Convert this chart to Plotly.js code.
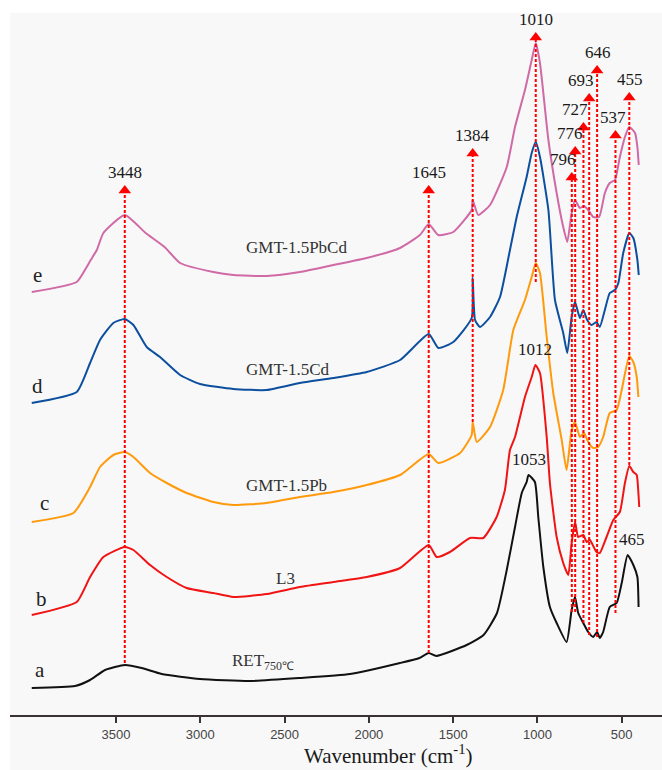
<!DOCTYPE html>
<html>
<head>
<meta charset="utf-8">
<script src="https://cdn.plot.ly/plotly-3.0.1.min.js"></script>
<style>html,body{margin:0;padding:0;background:#fff}</style>
</head>
<body>
<div id="chart" style="width:662px;height:770px"></div>
<script>
// FTIR spectra, stacked: wavenumber (cm-1) and absorbance (a.u., stacking offset included)
const wnA  = [4000,3743,3654,3565,3448,3348,3229,3002,2706,2409,2112,1815,1700,1645,1600,1420,1320,1240,1182,1133,1093,1064,1053,1015,995,965,926,886,827,797,777,758,728,699,669,646,630,610,571,530,500,465,431,407,400];
const absA = [27,29,35,45,50,47,41,36,34,37,41,52,57,62,59,70,80,102,145,188,222,233,240,233,198,148,108,92,73,105,118,102,92,83,78,83,77,83,108,112,132,160,150,138,108];

const wnB  = [4000,3733,3654,3575,3448,3397,3298,3199,3081,2923,2804,2606,2409,2211,2013,1815,1645,1598,1519,1400,1321,1242,1193,1163,1133,1074,1034,1012,985,945,926,886,847,817,797,777,758,728,708,689,650,630,590,550,511,481,455,431,411,401,396];
const absB = [100,113,138,158,168,165,150,138,127,122,118,121,128,133,138,147,170,158,163,177,177,198,225,265,278,318,338,350,342,278,232,178,152,140,172,193,178,180,173,175,163,162,178,195,203,232,249,243,240,222,208];

const wnC  = [4000,3753,3654,3595,3516,3448,3397,3298,3199,3081,2923,2804,2606,2409,2211,2013,1815,1645,1588,1459,1390,1384,1360,1281,1203,1143,1074,1034,1010,985,945,906,856,827,797,777,748,724,699,669,640,610,571,530,500,455,431,411,401];
const absC = [193,202,228,248,260,263,258,242,232,222,213,210,212,218,223,230,240,261,252,262,280,293,273,288,325,385,415,438,452,442,378,322,275,245,285,293,278,282,273,267,268,278,302,305,325,359,353,338,318];

const wnD  = [4000,3733,3654,3595,3516,3448,3397,3318,3239,3120,3002,2804,2606,2409,2211,2013,1815,1645,1588,1499,1390,1384,1370,1341,1281,1222,1163,1123,1064,1034,1010,985,935,896,847,823,797,777,748,728,705,679,650,630,600,571,540,520,491,455,431,407,399];
const absD = [312,323,352,375,392,396,390,368,358,340,331,326,325,332,337,343,355,381,367,373,397,437,395,388,398,418,465,498,538,562,573,558,505,415,382,362,398,413,397,405,395,390,393,388,405,422,425,432,462,482,477,455,440];

const wnE  = [4000,3733,3674,3650,3614,3575,3448,3324,3212,3120,2923,2804,2606,2409,2211,2013,1815,1697,1645,1588,1499,1390,1384,1351,1281,1182,1133,1074,1034,1010,985,935,886,847,823,797,777,748,724,699,669,634,600,571,540,511,481,455,421,407,399];
const absE = [423,433,448,455,465,482,500,482,468,452,443,440,439,443,450,457,467,480,491,480,483,505,515,500,510,548,588,625,655,672,652,575,522,488,473,502,515,507,509,505,498,498,522,532,535,558,578,588,582,568,550];

const sampleNames  = ['RET<sub>750℃</sub>', 'L3', 'GMT-1.5Pb', 'GMT-1.5Cd', 'GMT-1.5PbCd'];
const sampleLetters = ['a', 'b', 'c', 'd', 'e'];
const sampleColors = ['#111111', '#f01414', '#ff9a0c', '#0c4f9e', '#d06aa6'];

// assigned bands and the guide extents (a.u.)
const peakWn    = [3448, 1645, 1384, 1010, 796, 776, 727, 693, 646, 537, 455];
const peakText  = ['3448', '1645', '1384', '1010', '796', '776', '727', '693', '646', '537', '455'];
const guideTop    = [520, 520, 557, 673, 533, 559, 583, 612, 640, 575, 613];
const guideBottom = [52, 62, 293, 433, 103, 103, 92, 80, 78, 102, 250];
const labelShift  = [0, 0, 0, 0, -9, -5, -8, -8, 1, -2, 1];

// individual band positions marked on single spectra
const extraWn   = [1012, 1053, 465];
const extraAbs  = [350, 240, 160];
const extraText = ['1012', '1053', '465'];

// tick labels of the wavenumber axis
const tickVals = [3500, 3000, 2500, 2000, 1500, 1000, 500];

const serif = 'Liberation Serif, Times New Roman, serif';
const series = [[wnA, absA], [wnB, absB], [wnC, absC], [wnD, absD], [wnE, absE]];

const traces = series.map((s, i) => ({
  x: s[0], y: s[1], type: 'scatter', mode: 'lines',
  line: {color: sampleColors[i], width: 2, shape: 'spline', smoothing: 0.5},
  hoverinfo: 'skip', showlegend: false
}));

// dashed guides
const gx = [], gy = [];
peakWn.forEach((w, i) => { gx.push(w, w, null); gy.push(guideBottom[i], guideTop[i] + 4, null); });
traces.push({
  x: gx, y: gy, type: 'scatter', mode: 'lines',
  line: {color: '#ff0000', width: 2, dash: '3px,2px'},
  hoverinfo: 'skip', showlegend: false
});
// arrowheads
traces.push({
  x: peakWn, y: guideTop.map(v => v + 4.5), type: 'scatter', mode: 'markers',
  marker: {symbol: 'triangle-up', size: 11, color: '#ff0000'},
  hoverinfo: 'skip', showlegend: false
});

const annotations = [];
peakWn.forEach((w, i) => annotations.push({
  x: w, y: guideTop[i] + 10, xref: 'x', yref: 'y', text: peakText[i], showarrow: false,
  yanchor: 'bottom', xshift: labelShift[i], yshift: 1,
  font: {family: serif, size: 17, color: '#1a1a1a'}
}));
extraWn.forEach((w, i) => annotations.push({
  x: w, y: extraAbs[i] + 4, xref: 'x', yref: 'y', text: extraText[i], showarrow: false,
  yanchor: 'bottom', xshift: i === 2 ? 4 : 0,
  font: {family: serif, size: 17, color: '#1a1a1a'}
}));

// sample names and letters
const nameWn  = [2628, 2492, 2487, 2480, 2432];
const nameAbs = [53, 137, 230, 346, 468];
sampleNames.forEach((t, i) => annotations.push({
  x: nameWn[i], y: nameAbs[i], xref: 'x', yref: 'y', text: t, showarrow: false,
  font: {family: serif, size: 17, color: '#333'}
}));
const letterWn  = [3950, 3945, 3927, 3964, 3964];
const letterAbs = [45, 116, 212, 329, 440];
sampleLetters.forEach((t, i) => annotations.push({
  x: letterWn[i], y: letterAbs[i], xref: 'x', yref: 'y', text: t, showarrow: false,
  font: {family: serif, size: 21, color: '#222'}
}));

annotations.push({
  x: 0.581, y: -0.0556, xref: 'paper', yref: 'paper', showarrow: false,
  text: 'Wavenumber (cm<sup>-1</sup>)', yanchor: 'middle',
  font: {family: serif, size: 21, color: '#1a1a1a'}
});

const layout = {
  width: 662, height: 770,
  margin: {l: 10, r: 0, t: 13, b: 55},
  paper_bgcolor: '#ffffff',
  plot_bgcolor: 'rgba(0,0,0,0)',
  showlegend: false,
  xaxis: {
    range: [4129, 261], showgrid: false, zeroline: false,
    showline: true, linecolor: '#3a3232', linewidth: 2,
    ticks: 'outside', ticklen: 6, tickwidth: 2, tickcolor: '#3a3232',
    tickvals: tickVals, ticktext: tickVals.map(String),
    tickfont: {family: 'Liberation Sans, Arial, sans-serif', size: 13, color: '#444'}
  },
  yaxis: {range: [0, 702], visible: false, fixedrange: true},
  shapes: [{
    type: 'rect', xref: 'paper', yref: 'paper', x0: 0, x1: 1, y0: -0.0784, y1: 1,
    fillcolor: '#f8f8f8', line: {width: 0}, layer: 'below'
  }],
  annotations: annotations
};

Plotly.newPlot('chart', traces, layout, {displayModeBar: false, staticPlot: true});
</script>
</body>
</html>
